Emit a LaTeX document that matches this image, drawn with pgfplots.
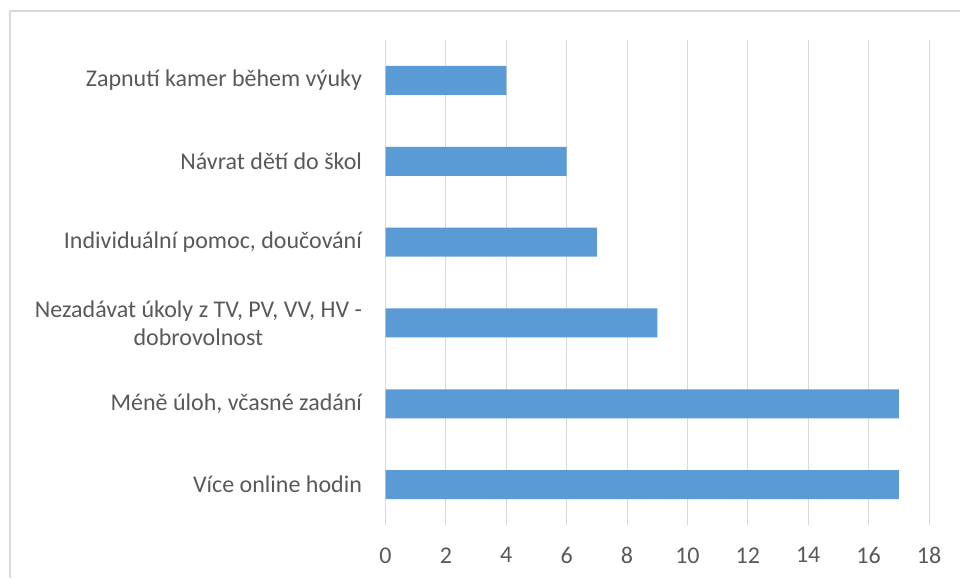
\documentclass[border=0pt]{standalone}
\usepackage{pgfplots}
\pgfplotsset{compat=1.18}
\usepackage{fontspec}
\setmainfont{Carlito}
\definecolor{barblue}{HTML}{5B9BD5}
\definecolor{gridgray}{HTML}{D9D9D9}
\definecolor{txtgray}{HTML}{595959}
\definecolor{framegray}{HTML}{D9D9D9}
\begin{document}
\begin{tikzpicture}[x=1pt,y=1pt]
\useasboundingbox (0,0) rectangle (960,-578);
\draw[framegray, line width=1.2pt] (10,-578) -- (10,-11) -- (960,-11);
\begin{axis}[
  at={(385.5pt,-525pt)}, anchor=south west,
  scale only axis, width=543.5pt, height=485pt,
  xbar, bar width=29pt,
  xmin=0, xmax=18, ymin=-0.5, ymax=5.5,
  xtick={0,2,...,18},
  ytick={0,1,2,3,4,5},
  yticklabels={Více online hodin, {Méně úloh, včasné zadání}, {Nezadávat úkoly z TV, PV, VV, HV -\\dobrovolnost}, {Individuální pomoc, doučování}, Návrat dětí do škol, Zapnutí kamer během výuky},
  axis line style={draw=none},
  major tick length=0pt,
  xmajorgrids, grid style={gridgray, line width=1pt},
  tick label style={font=\fontsize{24}{28}\selectfont, text=txtgray},
  yticklabel style={align=center, xshift=-20pt},
  xticklabel style={yshift=-19pt},
  /pgf/number format/assume math mode=true,
]
\addplot[fill=barblue, draw=none] coordinates {(17,0) (17,1) (9,2) (7,3) (6,4) (4,5)};
\end{axis}
\end{tikzpicture}
\end{document}
